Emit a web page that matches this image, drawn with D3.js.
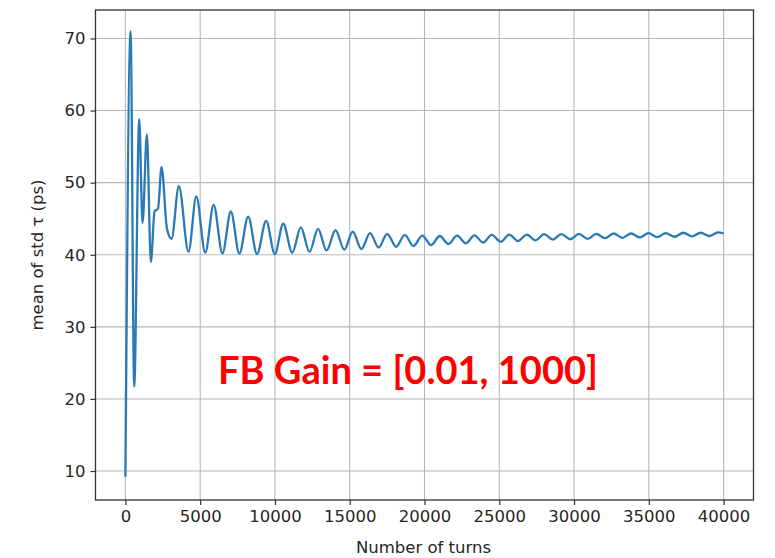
<!DOCTYPE html>
<html>
<head>
<meta charset="utf-8">
<script src="https://cdn.jsdelivr.net/npm/d3@7"></script>
<style>
  html, body { margin: 0; padding: 0; background: #fff; }
  svg { display: block; }
</style>
</head>
<body>
<div id="chart"></div>
<script>
// ---- data ----
const turns = [
  0, 347, 588, 922, 1148, 1436, 1703, 1950, 2180, 2417, 2780, 3085,
  3573, 4220, 4740, 5340, 5900, 6490, 7050, 7620, 8210, 8800,
  9410, 9990, 10550, 11160, 11730, 12310, 12880, 13450, 14050, 14640,
  15200, 15780, 16360, 16940, 17500, 18110, 18680, 19260, 19850, 20440,
  21020, 21600, 22180, 22770, 23340, 23910, 24500, 25090, 25670, 26250,
  26840, 27420, 28000, 28580, 29160, 29740, 30330, 30910, 31490, 32070,
  32650, 33230, 33820, 34400, 34980, 35560, 36140, 36720, 37310, 37890,
  38470, 39050, 39630, 40000
];
const meanStdTau = [
  9.2, 71.0, 21.7, 58.8, 44.4, 56.7, 39.0, 46.0, 46.4, 52.2, 43.6, 42.2,
  49.5, 40.4, 48.1, 40.3, 46.9, 40.2, 46.0, 40.15, 45.3, 40.1,
  44.7, 40.1, 44.3, 40.3, 43.8, 40.4, 43.6, 40.6, 43.4, 40.7,
  43.2, 40.8, 43.0, 41.0, 42.9, 41.1, 42.75, 41.2, 42.65, 41.35,
  42.6, 41.5, 42.65, 41.6, 42.7, 41.7, 42.75, 41.8, 42.8, 41.9,
  42.8, 42.0, 42.85, 42.1, 42.85, 42.15, 42.9, 42.2, 42.9, 42.3,
  42.95, 42.35, 42.95, 42.4, 43.0, 42.45, 43.0, 42.5, 43.05, 42.55,
  43.05, 42.6, 43.1, 42.95
];
const xTicks = [0, 5000, 10000, 15000, 20000, 25000, 30000, 35000, 40000];
const yTicks = [10, 20, 30, 40, 50, 60, 70];
const xLabel = "Number of turns";
const yLabel = "mean of std \u03c4 (ps)";
const annotation = "FB Gain = [0.01, 1000]";

// ---- layout ----
const W = 775, H = 558;
const plot = { left: 95.5, right: 753.5, top: 10, bottom: 500 };

const svg = d3.select("#chart").append("svg")
  .attr("width", W).attr("height", H);

const x = d3.scaleLinear().domain([-2000, 42000]).range([plot.left, plot.right]);
const y = d3.scaleLinear().domain([5.98, 73.95]).range([plot.bottom, plot.top]);

const font = "'DejaVu Sans', sans-serif";
const textColor = "#262626";

// grid
const grid = svg.append("g").attr("class", "grid");
grid.selectAll("line.gx").data(xTicks).enter().append("line")
  .attr("x1", d => x(d)).attr("x2", d => x(d))
  .attr("y1", plot.top).attr("y2", plot.bottom)
  .attr("stroke", "#b8b8b8").attr("stroke-width", 1.1);
grid.selectAll("line.gy").data(yTicks).enter().append("line")
  .attr("y1", d => y(d)).attr("y2", d => y(d))
  .attr("x1", plot.left).attr("x2", plot.right)
  .attr("stroke", "#b8b8b8").attr("stroke-width", 1.1);

// axes
const xAxis = d3.axisBottom(x).tickValues(xTicks).tickSize(5).tickPadding(5)
  .tickFormat(d3.format("d"));
const yAxis = d3.axisLeft(y).tickValues(yTicks).tickSize(5).tickPadding(5)
  .tickFormat(d3.format("d"));

const gx = svg.append("g").attr("transform", `translate(0,${plot.bottom})`).call(xAxis);
const gy = svg.append("g").attr("transform", `translate(${plot.left},0)`).call(yAxis);
[gx, gy].forEach(g => {
  g.select(".domain").remove();
  g.selectAll(".tick line").attr("stroke", "#333").attr("stroke-width", 1.2);
  g.selectAll(".tick text").attr("fill", textColor)
    .style("font-family", font).style("font-size", "16.5px");
});

// line
const line = d3.line()
  .x((d, i) => x(turns[i]))
  .y(d => y(d))
  .curve(d3.curveMonotoneX);

svg.append("path")
  .datum(meanStdTau)
  .attr("d", line)
  .attr("fill", "none")
  .attr("stroke", "#2a7ab5")
  .attr("stroke-width", 2.3)
  .attr("stroke-linejoin", "round");

// frame (spines)
svg.append("rect")
  .attr("x", plot.left).attr("y", plot.top)
  .attr("width", plot.right - plot.left).attr("height", plot.bottom - plot.top)
  .attr("fill", "none").attr("stroke", "#333").attr("stroke-width", 1.3);

// axis labels
svg.append("text")
  .attr("x", (plot.left + plot.right) / 2 - 1).attr("y", 553)
  .attr("text-anchor", "middle")
  .attr("fill", textColor)
  .style("font-family", font).style("font-size", "16.5px")
  .text(xLabel);

svg.append("text")
  .attr("transform", `translate(43,${(plot.top + plot.bottom) / 2}) rotate(-90)`)
  .attr("text-anchor", "middle")
  .attr("fill", textColor)
  .style("font-family", font).style("font-size", "16.5px")
  .text(yLabel);

// annotation
svg.append("text")
  .attr("x", 218).attr("y", 384)
  .attr("fill", "#ff0000")
  .attr("textLength", 380).attr("lengthAdjust", "spacingAndGlyphs")
  .style("font-family", "Lato, 'Open Sans', sans-serif")
  .style("font-weight", "bold")
  .style("font-size", "39px")
  .text(annotation);
</script>
</body>
</html>
